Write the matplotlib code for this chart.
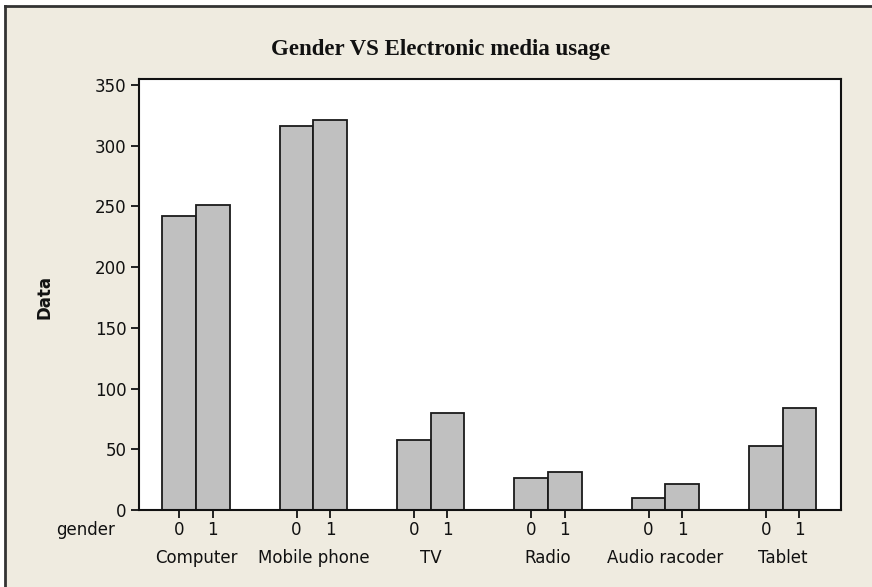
import matplotlib
matplotlib.use("Agg")
import matplotlib.pyplot as plt
import numpy as np

categories = ["Computer", "Mobile phone", "TV", "Radio", "Audio racoder", "Tablet"]
gender_labels = ["0", "1"]
values_gender0 = [242.5, 316.5, 57.7, 26.4, 9.9, 52.7]
values_gender1 = [251.4, 321.4, 80.2, 31.3, 21.2, 84.0]

W, H = 872, 587
fig = plt.figure(figsize=(W / 100, H / 100), dpi=100)
bg = "#EFEBE0"
fig.patch.set_facecolor("white")

# beige panel with dark border (left & top visible)
panel = plt.Rectangle((5 / W, 0), 1 - 5 / W, 1 - 6 / H, transform=fig.transFigure,
                      facecolor=bg, edgecolor="none", zorder=-10)
fig.patches.append(panel)
fig.lines.append(plt.Line2D([5 / W, 1], [1 - 6 / H, 1 - 6 / H], transform=fig.transFigure,
                            color="#333333", lw=2))
fig.lines.append(plt.Line2D([5 / W, 5 / W], [0, 1 - 6 / H], transform=fig.transFigure,
                            color="#333333", lw=2))

ax = fig.add_axes([139 / W, (H - 510) / H, (841 - 139) / W, (510 - 79) / H])
ax.set_facecolor("white")

spacing = 3.5
centers = np.arange(len(categories)) * spacing
bw = 1.0
ax.bar(centers - 0.5, values_gender0, width=bw, color="#C0C0C0", edgecolor="#1a1a1a", lw=1.3)
ax.bar(centers + 0.5, values_gender1, width=bw, color="#C0C0C0", edgecolor="#1a1a1a", lw=1.3)

ax.set_xlim(-1.70, centers[-1] + 1.74)
ax.set_ylim(0, 355)
ax.set_yticks(np.arange(0, 351, 50))

xt = np.column_stack([centers - 0.5, centers + 0.5]).ravel()
ax.set_xticks(xt)
ax.set_xticklabels(gender_labels * len(categories))

for s in ax.spines.values():
    s.set_linewidth(1.5)
    s.set_color("#111111")

fs = 12
ax.tick_params(axis="both", direction="out", length=6, width=1.3, labelsize=fs, colors="#111111")
ax.tick_params(axis="x", pad=2)
ax.tick_params(axis="y", pad=3)

for c, name in zip(centers, categories):
    ax.annotate(name, xy=(c, 0), xycoords=("data", "axes fraction"),
                xytext=(0, -34.6), textcoords="offset points",
                ha="center", va="center", fontsize=fs, color="#111111")

ax.annotate("gender", xy=(0, 0), xycoords="axes fraction", xytext=(-17.3, -14.4),
            textcoords="offset points", ha="right", va="center", fontsize=fs, color="#111111")

ax.set_ylabel("Data", fontsize=fs, fontweight="bold", color="#111111")
ax.yaxis.set_label_coords(-0.122, 0.494)

fig.text(441 / W, 1 - 50 / H, "Gender VS Electronic media usage", ha="center", va="center",
         fontsize=16.5, fontweight="bold", family="Liberation Serif", color="#111111")

fig.savefig("out.png", dpi=100, facecolor=fig.get_facecolor())
